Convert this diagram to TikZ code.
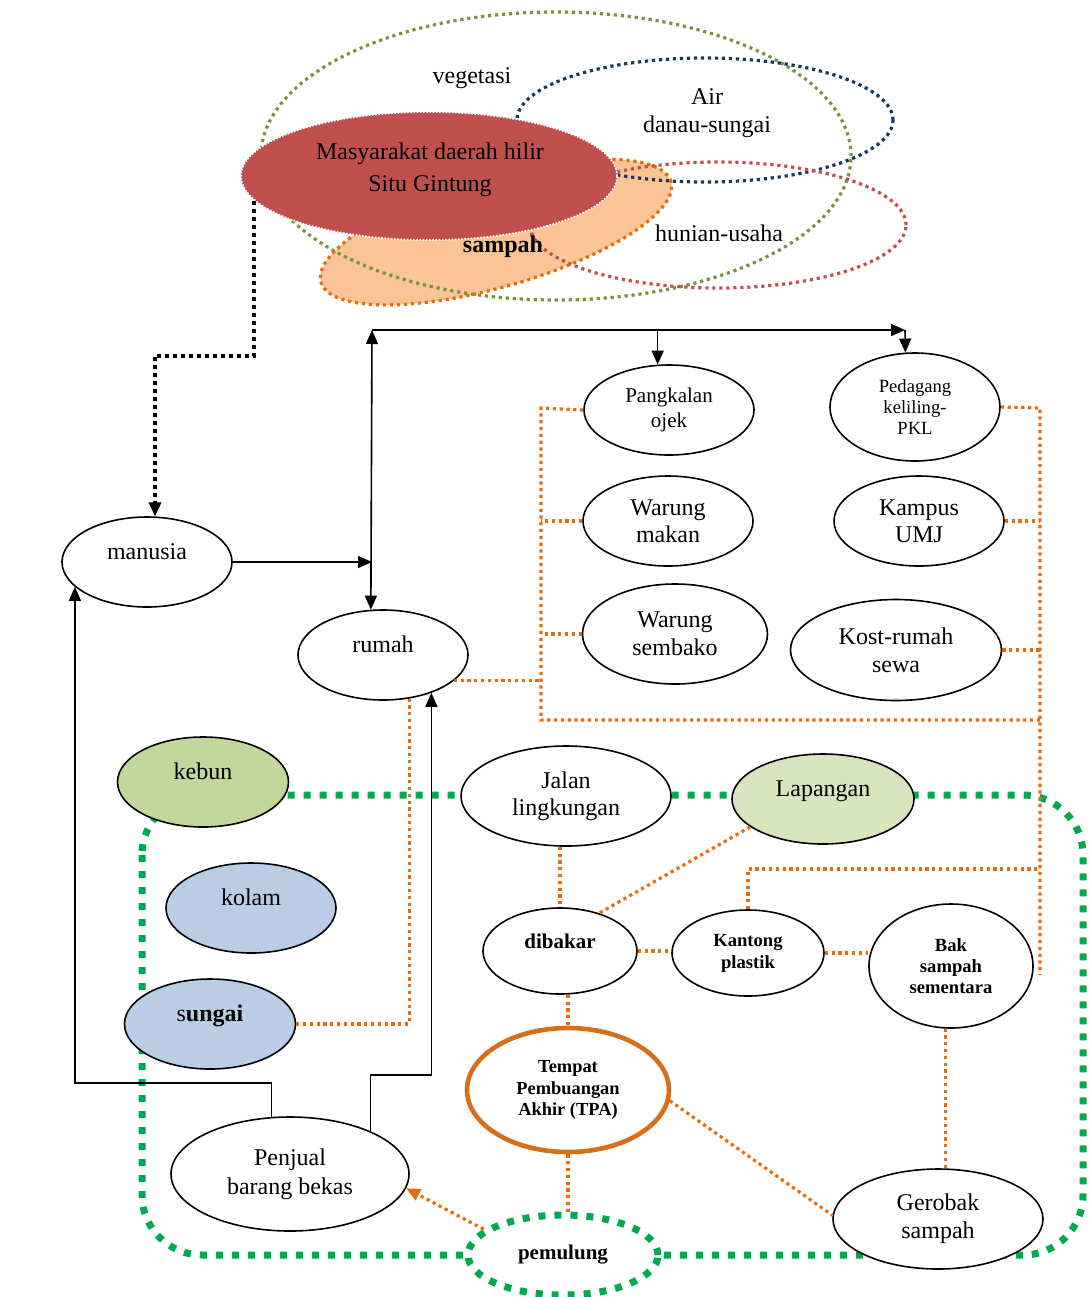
\documentclass[tikz,border=0pt]{standalone}
\usepackage{fontspec}
\setmainfont{Liberation Serif}
\usetikzlibrary{arrows.meta,shapes.geometric}
\definecolor{orng}{RGB}{228,108,10}
\definecolor{tpaor}{RGB}{214,110,28}
\definecolor{grn}{RGB}{0,168,80}
\definecolor{veg}{RGB}{119,147,60}
\definecolor{navy}{RGB}{23,55,94}
\definecolor{hun}{RGB}{192,80,77}
\definecolor{masyfill}{RGB}{192,80,77}
\definecolor{sampfill}{RGB}{250,196,150}
\definecolor{kebunfill}{RGB}{195,214,155}
\definecolor{lapfill}{RGB}{215,228,189}
\definecolor{airfill}{RGB}{185,205,229}
\begin{document}
\begin{tikzpicture}[x=0.5pt,y=-0.5pt,
  el/.style={ellipse,draw=black,line width=0.8pt,fill=white,inner sep=0pt,align=center,
             font=\fontsize{12}{14}\selectfont},
  up/.style={text height=8pt,text depth=10.6pt},
  od/.style={draw=orng,line width=1.6pt,dash pattern=on 1.6pt off 1.8pt},
  dotline/.style={line width=1.6pt,dash pattern=on 1.6pt off 1.9pt},
  gl/.style={draw=grn,line width=3.5pt,dash pattern=on 3.5pt off 4.5pt},
  ln/.style={draw=black,line width=0.8pt},
  tip/.style={-{Triangle[length=7pt,width=6pt]}},
  lbl/.style={font=\fontsize{12}{14}\selectfont,align=center,inner sep=0pt}]

\useasboundingbox (0,0) rectangle (1088,1297);

% ---- overlapping issue areas at the top ----
\fill[sampfill,rotate around={16:(496,232)}] (496,232) ellipse [x radius=91pt,y radius=27.5pt];
\draw[veg,dotline] (556,156) ellipse [x radius=147.5pt,y radius=72pt];
\draw[navy,dotline] (705,120) ellipse [x radius=94pt,y radius=31pt];
\draw[hun,dotline] (718,225) ellipse [x radius=94pt,y radius=31.5pt];
\draw[orng,dotline,rotate around={16:(496,232)}] (496,232) ellipse [x radius=91pt,y radius=27.5pt];
\node[ellipse,fill=masyfill,draw=white,line width=0.8pt,dash pattern=on 0.8pt off 0.8pt,
      minimum width=188pt,minimum height=64pt,inner sep=0pt] (masy) at (429,176) {};
\node[lbl,font=\fontsize{12}{16}\selectfont] (masytxt) at (430,170) {Masyarakat daerah hilir\\Situ Gintung};
\node[lbl] (vegtxt) at (472,78) {vegetasi};
\node[lbl] (airtxt) at (707,113) {Air\\danau-sungai};
\node[lbl] (huntxt) at (719,233) {hunian-usaha};
\node[lbl,font=\bfseries\fontsize{12}{14}\selectfont] (samptxt) at (503,247) {sampah};

% ---- green loop of open spaces ----
\draw[gl,rounded corners=30pt] (142,795) rectangle (1083,1255);

% ---- junction points ----
\coordinate (hub) at (372,330);
\coordinate (jn) at (372,562);
\coordinate (pk) at (905,330);
\coordinate (boxtl) at (541,408);
\coordinate (boxbl) at (541,720);
\coordinate (boxbr) at (1040,720);
\coordinate (boxtr) at (1040,408);
\coordinate (boxend) at (1040,975);
\coordinate (kcorner) at (1040,869);

% ---- nodes ----
\node[el,up,minimum width=85pt,minimum height=45pt] (manusia) at (147,562) {manusia};
\node[el,up,minimum width=85pt,minimum height=45pt] (rumah) at (383,655) {rumah};
\node[el,minimum width=85pt,minimum height=45pt,font=\fontsize{10.5}{12.5}\selectfont] (pangkalan) at (669,410) {Pangkalan\\ojek};
\node[el,minimum width=85pt,minimum height=54pt,font=\fontsize{9.3}{10.3}\selectfont] (pedagang) at (915,407) {Pedagang\\keliling-\\PKL};
\node[el,minimum width=85pt,minimum height=45pt,font=\fontsize{12}{13.5}\selectfont] (makan) at (668,521) {Warung\\makan};
\node[el,minimum width=85pt,minimum height=45pt,font=\fontsize{12}{13.5}\selectfont] (kampus) at (919,521) {Kampus\\UMJ};
\node[el,minimum width=92.5pt,minimum height=50pt] (sembako) at (675,634) {Warung\\sembako};
\node[el,minimum width=105.5pt,minimum height=50.5pt] (kost) at (896,650) {Kost-rumah\\sewa};
\node[el,up,fill=kebunfill,minimum width=85.5pt,minimum height=45pt] (kebun) at (203,782) {kebun};
\node[el,up,fill=airfill,minimum width=85pt,minimum height=45pt] (kolam) at (251,908) {kolam};
\node[el,up,fill=airfill,minimum width=85.5pt,minimum height=45pt] (sungai) at (210,1024) {s\textbf{ungai}};
\node[el,minimum width=105pt,minimum height=50pt,font=\fontsize{12}{13.5}\selectfont] (jalan) at (566,796) {Jalan\\lingkungan};
\node[el,up,fill=lapfill,minimum width=91pt,minimum height=45pt] (lapangan) at (823,799) {Lapangan};
\node[el,up,minimum width=77pt,minimum height=43pt,font=\bfseries\fontsize{10.5}{12}\selectfont] (dibakar) at (560,951) {dibakar};
\node[el,minimum width=76pt,minimum height=43pt,font=\bfseries\fontsize{9.3}{11}\selectfont] (kantong) at (748,953) {Kantong\\plastik};
\node[el,minimum width=82pt,minimum height=62pt,font=\bfseries\fontsize{9.3}{10.5}\selectfont] (bak) at (951,966) {Bak\\sampah\\sementara};
\node[el,draw=tpaor,line width=2.3pt,minimum width=101pt,minimum height=62pt,font=\bfseries\fontsize{9.2}{10.8}\selectfont] (tpa) at (568,1090) {Tempat\\Pembuangan\\Akhir (TPA)};
\node[el,minimum width=119pt,minimum height=57pt,font=\fontsize{12}{14.5}\selectfont] (penjual) at (290,1174) {Penjual\\barang bekas};
\node[el,minimum width=105pt,minimum height=50pt] (gerobak) at (938,1219) {Gerobak\\sampah};
\node[el,gl,minimum width=95pt,minimum height=40pt,font=\bfseries\fontsize{10.5}{12}\selectfont] (pemulung) at (563,1255) {pemulung};

% ---- solid black flows ----
\draw[black,line width=2pt,dash pattern=on 2pt off 2pt,-{Triangle[length=7pt,width=6pt]}]
  (masy.188) -- ++(0,155) -| (manusia.80);
\draw[ln,{Triangle[length=7pt,width=6pt]}-{Triangle[length=7pt,width=6pt]}] (hub) -- (rumah.105);
\draw[ln,tip] (manusia.east) -- (jn);
\draw[ln,tip] (hub) -- (pk);
\draw[ln,tip] (pk) -- (pedagang.100);
\draw[ln,tip] (pangkalan.104 |- hub) -- (pangkalan.104);
\draw[ln,tip] (penjual.108) -- ++(0,-34) -| (manusia.199);
\draw[ln,tip] (penjual.28) -- ++(0,-56) -| (rumah.-38);

% ---- orange dotted relations ----
\draw[od] (pangkalan.west) -- (boxtl) -- (boxbl) -- (boxbr);
\draw[od] (pedagang.east) -- (boxtr) -- (boxend);
\draw[od] (makan.west) -- (makan.west -| boxtl);
\draw[od] (sembako.west) -- (sembako.west -| boxtl);
\draw[od] (rumah.-20) -- (rumah.-20 -| boxtl);
\draw[od] (kampus.east) -- (kampus.east -| boxtr);
\draw[od] (kost.east) -- (kost.east -| boxtr);
\draw[od] (kantong.north) |- (kcorner);
\draw[od] (rumah.-59) |- (sungai.east);
\draw[od] (jalan.south -| dibakar.north) -- (dibakar.north);
\draw[od] (lapangan.201) -- (dibakar.44);
\draw[od] (dibakar.east) -- (dibakar.east -| kantong.west);
\draw[od] (kantong.east) -- (kantong.east -| bak.west);
\draw[od] (bak.-95) -- (bak.-95 |- gerobak.north);
\draw[od] (tpa.north |- dibakar.south) -- (tpa.north);
\draw[od] (tpa.south) -- (tpa.south |- pemulung.north);
\draw[od] (tpa.-6) -- (gerobak.178);
\draw[od,-{Triangle[length=7pt,width=6pt]}] (pemulung.162) -- (penjual.-7);
\end{tikzpicture}
\end{document}
